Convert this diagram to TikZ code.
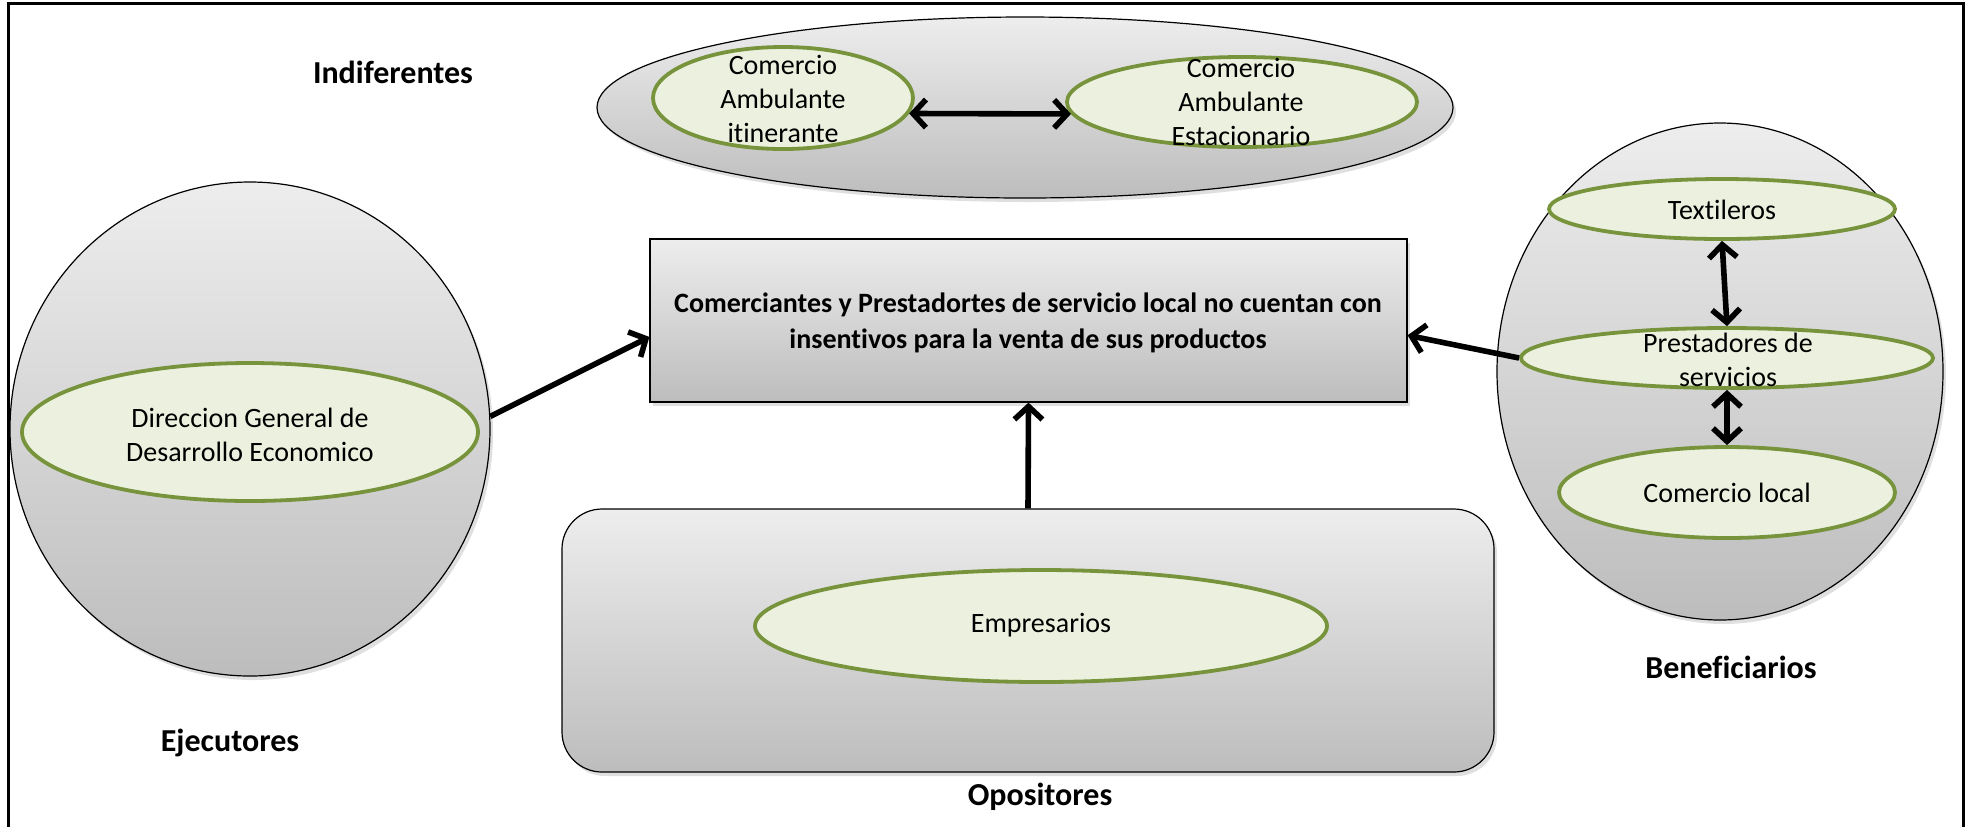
\documentclass[tikz,border=0pt]{standalone}
\usepackage{fontspec}
\setmainfont{Carlito}[Ligatures=NoCommon]
\usetikzlibrary{shapes.geometric,arrows.meta,shadows,calc}
\definecolor{olfill}{HTML}{EBF1DE}
\definecolor{oldraw}{HTML}{77933C}
\begin{document}
\begin{tikzpicture}[x=0.5pt,y=-0.5pt,
  grp/.style={draw=black, line width=0.6pt, top color=gray!14, bottom color=gray!52,
    drop shadow={opacity=0.25, shadow xshift=1.5pt, shadow yshift=-2pt}},
  inell/.style={ellipse, draw=oldraw, line width=1.9pt, fill=olfill, inner sep=0pt},
  txt/.style={align=center, inner sep=0pt, font=\fontsize{14}{17}\selectfont},
  btxt/.style={align=center, inner sep=0pt, font=\fontsize{14}{18}\selectfont\bfseries},
  lbl/.style={inner sep=0pt, font=\fontsize{16}{18}\selectfont\bfseries},
  arr/.style={line width=2.8pt, -{Straight Barb[length=6.5pt,width=14pt]}},
  darr/.style={line width=2.8pt, {Straight Barb[length=6.5pt,width=14pt]}-{Straight Barb[length=6.5pt,width=14pt]}}
]
\useasboundingbox (0,0) rectangle (1971,827);
\draw[line width=1.5pt] (8,827) -- (8,3) -- (1963,3) -- (1963,827);

% group shapes
\node[grp, ellipse, minimum width=428pt, minimum height=90.5pt, inner sep=0pt] (topgrp) at (1025,107.5) {};
\node[grp, ellipse, minimum width=240pt, minimum height=247pt, inner sep=0pt] (leftgrp) at (250,429) {};
\node[grp, ellipse, minimum width=223pt, minimum height=248.5pt, inner sep=0pt] (rightgrp) at (1720,371.5) {};
\node[grp, rectangle, minimum width=378.5pt, minimum height=81.5pt, inner sep=0pt] (prob) at (1028.5,320.5) {};
\node[grp, rectangle, rounded corners=20pt, minimum width=466pt, minimum height=131.5pt, inner sep=0pt] (op) at (1028,640.5) {};

% inner ellipses
\node[inell, minimum width=130pt, minimum height=51pt] (ci) at (783,98) {};
\node[inell, minimum width=175pt, minimum height=45pt] (ce) at (1242,102) {};
\node[inell, minimum width=228pt, minimum height=69pt] (dg) at (250,432) {};
\node[inell, minimum width=286pt, minimum height=56pt] (emp) at (1041,626) {};
\node[inell, minimum width=173pt, minimum height=30pt] (tex) at (1722,209) {};
\node[inell, minimum width=206pt, minimum height=30pt] (pre) at (1727,358) {};
\node[inell, minimum width=168pt, minimum height=45.5pt] (cl) at (1727,492.5) {};

% texts
\node[txt] (cit) at (783,99) {Comercio\\Ambulante\\itinerante};
\node[txt] (cet) at (1241,102) {Comercio\\Ambulante\\Estacionario};
\node[txt] (dgt) at (250,435) {Direccion General de\\Desarrollo Economico};
\node[btxt] (probt) at (1028,323) {Comerciantes y Prestadortes de servicio local no cuentan con\\insentivos para la venta de sus productos};
\node[txt] (empt) at (1041,625) {Empresarios};
\node[txt] (text) at (1722,210) {Textileros};
\node[txt] (pret) at (1728,360) {Prestadores de\\servicios};
\node[txt] (clt) at (1727,493) {Comercio local};

% labels
\node[lbl] (l1) at (393,72) {Indiferentes};
\node[lbl] (l2) at (230,743) {Ejecutores};
\node[lbl] (l3) at (1040,797) {Opositores};
\node[lbl] (l4) at (1731,667) {Beneficiarios};

% connectors
\draw[darr] (ci.-7) -- (ce.184);
\draw[arr] (leftgrp.3) -- ($(prob.north west)!0.6!(prob.south west)$);
\draw[arr] (pre.west) -- ($(prob.north east)!0.59!(prob.south east)$);
\draw[arr] (op.north) -- (prob.south);
\draw[darr] (tex.south) -- (pre.north);
\draw[darr] (pre.south) -- (cl.north);
\end{tikzpicture}
\end{document}
